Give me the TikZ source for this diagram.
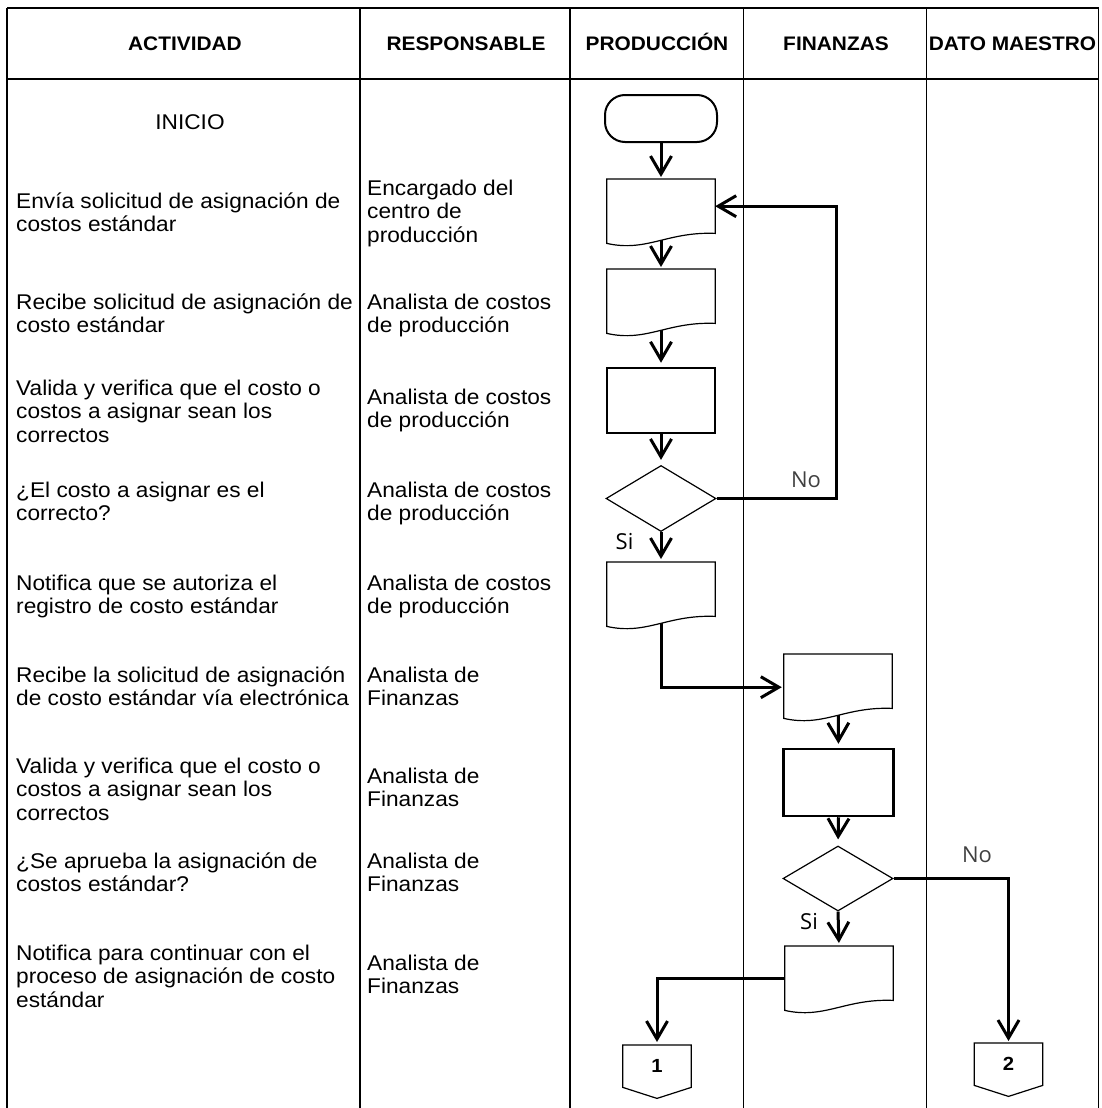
\documentclass[tikz,border=0pt]{standalone}
\usepackage{fontspec}
\setmainfont[FakeStretch=1.065]{Liberation Sans}
\newfontfamily\yesnofont{Open Sans}
\usetikzlibrary{arrows.meta,shapes.geometric}
\pgfdeclarelayer{back}
\pgfsetlayers{back,main}

\tikzset{
  frame/.style={line width=1.4pt},
  rulebar/.style={line width=2pt},
  headtext/.style={font=\bfseries\fontsize{19.6}{22}\selectfont, inner sep=0, anchor=base},
  celltext/.style={font=\fontsize{21.3}{23.4}\selectfont, align=left, anchor=north west, inner sep=0},
  flow/.style={line width=3pt, shorten >=2pt, -{Straight Barb[length=18pt,width=21pt]}},
  docnode/.style={minimum width=108pt, minimum height=54pt, inner sep=0},
  docline/.style={draw=black, line width=1.2pt, fill=white},
  procbox/.style={draw, line width=2.5pt, fill=white, minimum width=108pt, minimum height=65pt, inner sep=0},
  decision/.style={diamond, draw, line width=1.2pt, fill=white, minimum width=110pt, minimum height=66pt, inner sep=0},
  startbox/.style={draw, line width=2pt, rounded corners=20pt, fill=white, minimum width=112pt, minimum height=47pt, inner sep=0},
  offpage/.style={minimum width=68pt, minimum height=42pt, inner sep=0, font=\bfseries\fontsize{19}{22}\selectfont},
  offline/.style={draw=black, line width=1.2pt, fill=white},
  answer/.style={font=\yesnofont\fontsize{22}{26}\selectfont, inner sep=0},
}

% first-line strut so that every cell text starts from a fixed baseline
\newcommand\fl{\rule{0pt}{19pt}}

% document symbol: name, centre x, top y
\newcommand\docat[3]{%
  \node[docnode, anchor=north] (#1) at (#2,#3) {};
  \draw[docline] ([yshift=-10pt]#1.south west) -- (#1.north west) -- (#1.north east)
    -- (#1.south east) .. controls +(-48,-2) and +(40,9) .. ([yshift=-10pt]#1.south west) -- cycle;
}

\begin{document}
\begin{tikzpicture}[x=1pt,y=-1pt]
\useasboundingbox (0,0) rectangle (1101,1108);

% ---- table grid ----
\begin{pgfonlayer}{back}
  \draw[rulebar] (7,8) -- (1098.5,8);
  \draw[rulebar] (7,79) -- (1098.5,79);
  \foreach \cx in {7,360,570,743.5,926.5,1098.5}
    \draw[frame] (\cx,8) -- (\cx,1108);
\end{pgfonlayer}

% ---- column headings ----
\node[headtext] (h1) at (185,51) {ACTIVIDAD};
\node[headtext] (h2) at (466,51) {RESPONSABLE};
\node[headtext] (h3) at (657,51) {PRODUCCIÓN};
\node[headtext] (h4) at (836,51) {FINANZAS};
\node[headtext] (h5) at (1012.5,51) {DATO MAESTRO};

% ---- activities ----
\node[celltext, anchor=base] (a0) at (190,129) {INICIO};
\node[celltext] (a1) at (16,189) {\fl Envía solicitud de asignación de\\costos estándar};
\node[celltext] (a2) at (16,290) {\fl Recibe solicitud de asignación de\\costo estándar};
\node[celltext] (a3) at (16,376) {\fl Valida y verifica que el costo o\\costos a asignar sean los\\correctos};
\node[celltext] (a4) at (16,478) {\fl ¿El costo a asignar es el\\correcto?};
\node[celltext] (a5) at (16,571) {\fl Notifica que se autoriza el\\registro de costo estándar};
\node[celltext] (a6) at (16,663) {\fl Recibe la solicitud de asignación\\de costo estándar vía electrónica};
\node[celltext] (a7) at (16,754) {\fl Valida y verifica que el costo o\\costos a asignar sean los\\correctos};
\node[celltext] (a8) at (16,849) {\fl ¿Se aprueba la asignación de\\costos estándar?};
\node[celltext] (a9) at (16,941) {\fl Notifica para continuar con el\\proceso de asignación de costo\\estándar};

% ---- responsibles ----
\node[celltext] (p1) at (367,176) {\fl Encargado del\\centro de\\producción};
\node[celltext] (p2) at (367,290) {\fl Analista de costos\\de producción};
\node[celltext] (p3) at (367,385) {\fl Analista de costos\\de producción};
\node[celltext] (p4) at (367,478) {\fl Analista de costos\\de producción};
\node[celltext] (p5) at (367,571) {\fl Analista de costos\\de producción};
\node[celltext] (p6) at (367,663) {\fl Analista de\\Finanzas};
\node[celltext] (p7) at (367,764) {\fl Analista de\\Finanzas};
\node[celltext] (p8) at (367,849) {\fl Analista de\\Finanzas};
\node[celltext] (p9) at (367,951) {\fl Analista de\\Finanzas};

% ---- flowchart symbols ----
\node[startbox] (t0) at (661,118.5) {};
\docat{d1}{661}{179}
\docat{d2}{661}{269}
\node[procbox] (r1) at (661,400.5) {};
\node[decision] (q1) at (661,498.5) {};
\docat{d3}{661}{562}
\docat{d4}{838}{654}
\node[procbox, minimum width=110pt, minimum height=67pt] (r2) at (838.5,782.5) {};
\node[decision, minimum height=65pt] (q2) at (838,878.5) {};
\docat{d5}{839}{946}

\node[offpage, anchor=north] (c1) at (657,1045) {};
\draw[offline] (c1.north west) -- (c1.north east) -- (c1.south east)
  -- ([yshift=-11pt]c1.south) -- (c1.south west) -- cycle;
\node[offpage] (n1) at (c1.center) {1};
\node[offpage, anchor=north] (c2) at (1008.5,1043) {};
\draw[offline] (c2.north west) -- (c2.north east) -- (c2.south east)
  -- ([yshift=-11pt]c2.south) -- (c2.south west) -- cycle;
\node[offpage] (n2) at (c2.center) {2};

% ---- branch labels ----
\node[answer, text=black!75] (no1) at (806,480) {No};
\node[answer] (si1) at (624.5,542) {Si};
\node[answer, text=black!75] (no2) at (977,855) {No};
\node[answer] (si2) at (809,922) {Si};

% ---- connectors ----
\begin{pgfonlayer}{back}
  \draw[flow] (t0.south) -- (d1.north);
  \draw[flow] (d1.center) -- (d2.north);
  \draw[flow, shorten >=4pt] (d2.center) -- (r1.north);
  \draw[flow, shorten >=5pt] (r1.south) -- (q1.north);
  \draw[flow, shorten >=3pt] (q1.south) -- (d3.north);
  \draw[flow, shorten >=0pt] (q1.east) -| ([xshift=121pt]d1.east) -- (d1.east);
  \draw[flow] (d3.center) |- ([yshift=-6pt]d4.west);
  \draw[flow, shorten >=4pt] (d4.center) -- (r2.north);
  \draw[flow, shorten >=6pt] (r2.south) -- (q2.north);
  \draw[flow, shorten >=3pt] (q2.south) -- (d5.north);
  \draw[flow] (q2.east) -| (c2.north);
  \draw[flow, shorten >=3pt] ([yshift=-5pt]d5.west) -| (c1.north);
\end{pgfonlayer}
\end{tikzpicture}
\end{document}
